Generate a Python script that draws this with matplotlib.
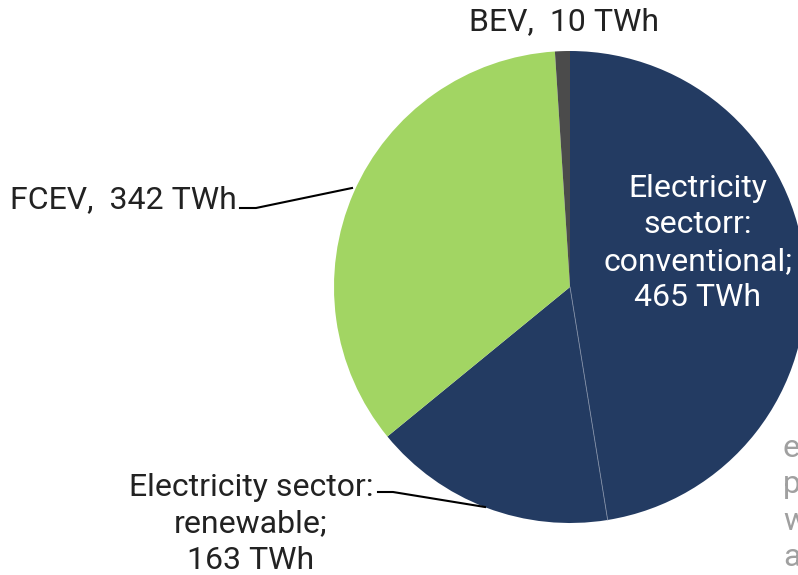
import numpy as np
import matplotlib
matplotlib.use('Agg')
import matplotlib.pyplot as plt

plt.rcParams['font.family'] = ['Roboto', 'DejaVu Sans']

# Data
labels = ['Electricity sector: conventional', 'Electricity sector: renewable', 'FCEV', 'BEV']
values = [465, 163, 342, 10]
colors = ['#233b62', '#233b62', '#a2d563', '#4b4b4b']

fig = plt.figure(figsize=(7.98, 5.75), dpi=100)
ax = fig.add_axes([0, 0, 1, 1])

H = 575
cx, cy, r = 570, H - 287, 236
wedges, _ = ax.pie(values, colors=colors, startangle=90, counterclock=False,
                   center=(cx, cy), radius=r,
                   wedgeprops=dict(linewidth=0))
ax.set_xlim(0, 798)
ax.set_ylim(0, H)
ax.set_aspect('equal')
ax.axis('off')

# faint divider between the two electricity slices
ang = np.deg2rad(90 - 360 * values[0] / sum(values))
ax.plot([cx, cx + r * np.cos(ang)], [cy, cy + r * np.sin(ang)], color='#7f8ca4', lw=0.6)

fs = 23
tc = '#222222'
ls = 1.32
ax.text(698, H - 243, 'Electricity\nsectorr:\nconventional;\n%d TWh' % values[0],
        color='white', fontsize=fs, ha='center', va='center', linespacing=ls)
ax.text(251, H - 524, 'Electricity sector:\nrenewable;\n%d TWh' % values[1],
        color=tc, fontsize=fs, ha='center', va='center', linespacing=ls)
ax.text(10, H - 200, 'FCEV,  %d TWh' % values[2],
        color=tc, fontsize=fs, ha='left', va='center')
ax.text(564, H - 22, 'BEV,  %d TWh' % values[3],
        color=tc, fontsize=fs, ha='center', va='center')

# leader lines
ax.plot([240, 256, 352], [H - 208, H - 208, H - 188], color='black', lw=1.5)
ax.plot([378, 393, 485], [H - 492, H - 492, H - 507], color='black', lw=1.5)

# clipped neighbouring text
ax.text(783, H - 503, 'e\np\nw\na', color='#a0a0a0', fontsize=fs,
        ha='left', va='center', linespacing=ls)

fig.savefig('out.png', dpi=100)
